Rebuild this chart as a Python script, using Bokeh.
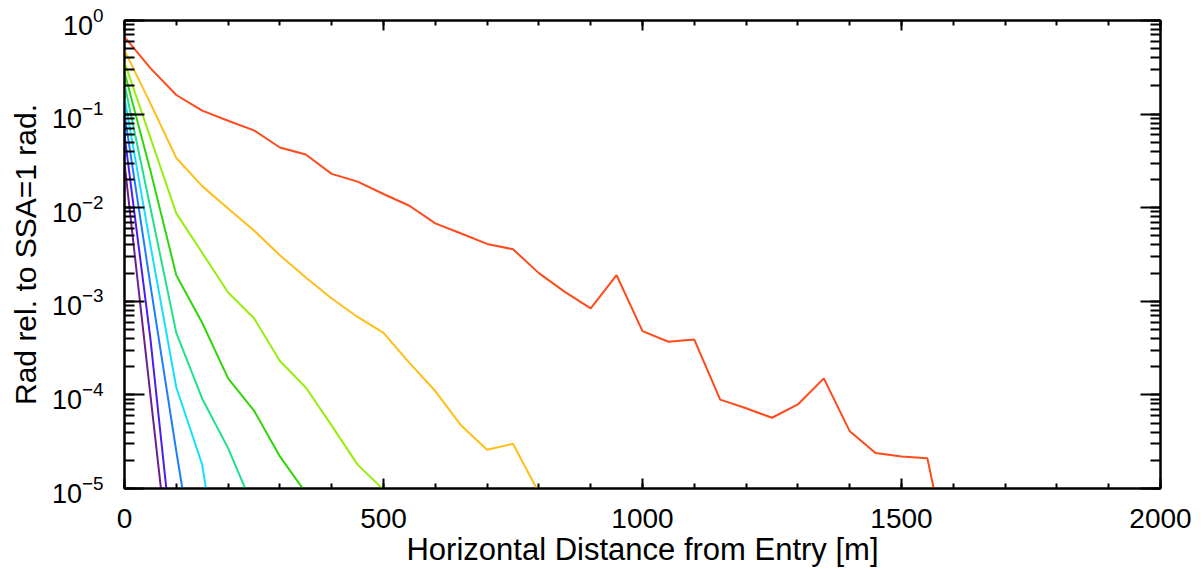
from bokeh.plotting import figure
from bokeh.models import (LinearAxis, LogAxis, SingleIntervalTicker, LogTicker,
                          Range1d, LogScale, LinearScale, CustomJSTickFormatter)
from bokeh.embed import file_html
from bokeh.resources import INLINE

# distance samples [m]
distance = [0, 50, 100, 150, 200, 250, 300, 350, 400, 450, 500, 550, 600, 650,
            700, 750, 800, 850, 900, 950, 1000, 1050, 1100, 1150, 1200, 1250,
            1300, 1350, 1400, 1450, 1500, 1550, 1600]

# radiance relative to SSA=1 (one curve per SSA value)
rad_red = [0.67, 0.31, 0.16, 0.109, 0.085, 0.067, 0.044, 0.037, 0.023, 0.019,
           0.014, 0.0105, 0.0068, 0.0053, 0.0041, 0.0036, 0.0020, 0.00126,
           0.00084, 0.0019, 0.00048, 0.00037, 0.00039, 8.9e-5, 7.2e-5, 5.7e-5,
           7.9e-5, 1.5e-4, 4.1e-5, 2.4e-5, 2.2e-5, 2.1e-5, 1e-6]
rad_orange = [0.48, 0.13, 0.034, 0.017, 0.0098, 0.0057, 0.0031, 0.0018, 0.00107,
              0.00068, 0.00046, 0.00022, 0.00011, 4.7e-5, 2.6e-5, 3.0e-5, 9e-6]
rad_chartreuse = [0.36, 0.056, 0.0087, 0.0033, 0.00124, 0.00066, 0.00023,
                  0.00012, 4.7e-5, 1.8e-5, 9.7e-6]
rad_green = [0.28, 0.025, 0.0019, 0.00059, 0.00015, 6.8e-5, 2.2e-5, 9e-6]
rad_spring = [0.21, 0.01, 0.00046, 9.1e-5, 2.7e-5, 6e-6]
rad_cyan = [0.15, 0.004, 0.00012, 1.8e-5, 3e-7]
rad_dodger = [0.10, 0.0015, 2.5e-5, 5e-7]
rad_blueviolet = [0.06, 4e-4, 1e-6]
rad_purple = [0.03, 1e-4, 3.5e-7]

series = [
    (rad_purple, "#6b1f8f"),
    (rad_blueviolet, "#4b1cf0"),
    (rad_dodger, "#1f7cff"),
    (rad_cyan, "#14e0ff"),
    (rad_spring, "#1fe08c"),
    (rad_green, "#2fd60a"),
    (rad_chartreuse, "#97ee0e"),
    (rad_orange, "#ffbe1a"),
    (rad_red, "#ff4a1c"),
]

FONT = "Liberation Sans"

p = figure(width=1202, height=569, output_backend="svg", toolbar_location=None,
           x_axis_type=None, y_axis_type=None,
           x_range=Range1d(0, 2000), y_range=Range1d(1e-5, 1.0),
           min_border_left=124, min_border_right=42,
           min_border_top=20, min_border_bottom=81)
p.x_scale = LinearScale()
p.y_scale = LogScale()
p.outline_line_color = "black"
p.outline_line_width = 2
p.grid.visible = False
p.background_fill_color = "white"
p.border_fill_color = "white"

for ys, col in series:
    p.line(distance[:len(ys)], ys, line_color=col, line_width=2)

blank = CustomJSTickFormatter(code="return ''")

def style_axis(ax, tick_major, tick_minor, show_labels):
    ax.axis_line_color = "black"
    ax.axis_line_width = 2
    ax.major_tick_line_color = "black"
    ax.minor_tick_line_color = "black"
    ax.major_tick_line_width = 2
    ax.minor_tick_line_width = 2
    ax.major_tick_in = tick_major
    ax.major_tick_out = 0
    ax.minor_tick_in = tick_minor
    ax.minor_tick_out = 0
    ax.major_label_text_font = FONT
    ax.axis_label_text_font = FONT
    ax.axis_label_text_font_style = "normal"
    ax.axis_label_text_color = "black"
    ax.major_label_text_color = "black"
    if not show_labels:
        ax.formatter = blank
        ax.major_label_standoff = 0

# bottom axis
xb = LinearAxis(ticker=SingleIntervalTicker(interval=500, num_minor_ticks=5),
                axis_label="Horizontal Distance from Entry [m]")
style_axis(xb, 10, 5, True)
xb.major_label_text_font_size = "28px"
xb.axis_label_text_font_size = "31px"
xb.major_label_standoff = 20
xb.axis_label_standoff = 1
p.add_layout(xb, "below")

# top axis (ticks only)
xt = LinearAxis(ticker=SingleIntervalTicker(interval=500, num_minor_ticks=5))
style_axis(xt, 10, 5, False)
p.add_layout(xt, "above")

# left axis
yl = LogAxis(ticker=LogTicker(num_minor_ticks=10),
             axis_label="Rad rel. to SSA=1 rad.")
style_axis(yl, 20, 10, True)
yl.major_label_text_font_size = "27px"
yl.axis_label_text_font_size = "30px"
yl.major_label_standoff = 21
yl.axis_label_standoff = 7
p.add_layout(yl, "left")

# right axis (ticks only)
yr = LogAxis(ticker=LogTicker(num_minor_ticks=10))
style_axis(yr, 20, 10, False)
p.add_layout(yr, "right")

open("out.html", "w").write(file_html(p, INLINE))
